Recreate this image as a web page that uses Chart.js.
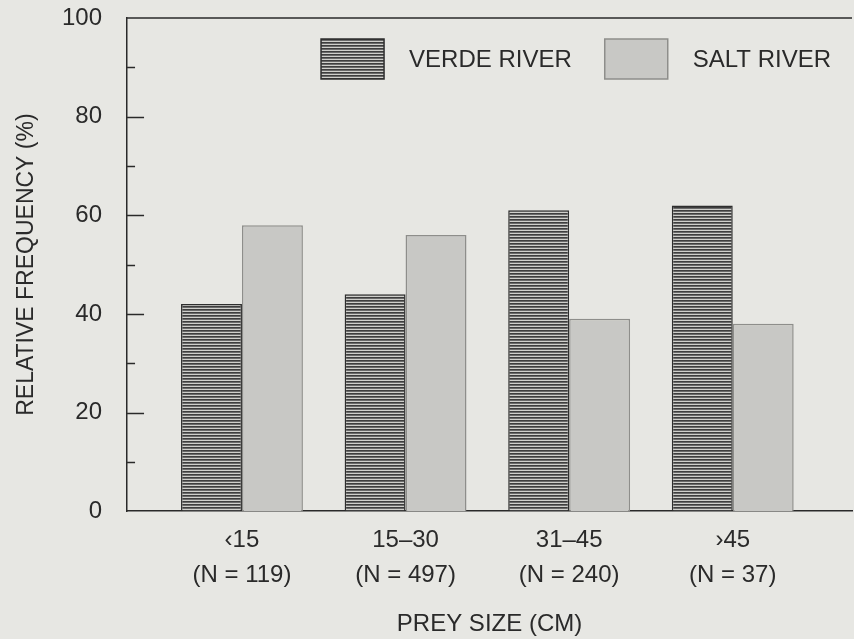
<!DOCTYPE html>
<html>
<head>
<meta charset="utf-8">
<script src="https://cdn.jsdelivr.net/npm/chart.js@4.4.1/dist/chart.umd.min.js"></script>
<style>
  html, body { margin: 0; padding: 0; background: #e7e7e3; }
  #wrap { width: 854px; height: 639px; position: relative; }
</style>
</head>
<body>
<div id="wrap"><canvas id="c" width="854" height="639"></canvas></div>
<script>
// ---- data ----
const sizeClasses = ['\u203915', '15\u201330', '31\u201345', '\u203A45'];
const sampleSizes = ['(N = 119)', '(N = 497)', '(N = 240)', '(N = 37)'];
const verdeRiver = [42, 44, 61, 62];
const saltRiver = [58, 56, 39, 38];
const seriesNames = ['VERDE RIVER', 'SALT RIVER'];
const yTickValues = [0, 10, 20, 30, 40, 50, 60, 70, 80, 90, 100];

// ---- styles ----
const FONT = "'Liberation Sans', Arial, sans-serif";
const INK = '#2a2a2a';

function stripePattern() {
  const c = document.createElement('canvas');
  c.width = 8; c.height = 3;
  const g = c.getContext('2d');
  g.fillStyle = '#cfcfcb'; g.fillRect(0, 0, 8, 3);
  g.fillStyle = '#3e3e3e'; g.fillRect(0, 0, 8, 1);
  g.fillStyle = '#6a6a6a'; g.fillRect(0, 1, 8, 1);
  return g.createPattern(c, 'repeat');
}

const framePlugin = {
  id: 'frame',
  afterDraw(chart) {
    const { ctx, chartArea } = chart;
    const y = chart.scales.y;
    ctx.save();
    ctx.strokeStyle = INK;
    ctx.lineWidth = 1.5;
    ctx.beginPath();
    ctx.moveTo(chartArea.left, chartArea.top);
    ctx.lineTo(chartArea.right, chartArea.top);
    ctx.stroke();
    y.ticks.forEach(t => {
      if (t.value <= 0 || t.value >= 100) return;
      const py = Math.round(y.getPixelForValue(t.value)) + 0.5;
      const len = t.value % 20 === 0 ? 17 : 8;
      ctx.beginPath();
      ctx.moveTo(chartArea.left, py);
      ctx.lineTo(chartArea.left + len, py);
      ctx.stroke();
    });
    ctx.restore();
  }
};

// legend drawn inside the plot area, right-aligned
const insideLegend = {
  id: 'insideLegend',
  afterDatasetsDraw(chart, args, opts) {
    const { ctx, chartArea } = chart;
    ctx.save();
    ctx.font = opts.size + 'px ' + FONT;
    ctx.textBaseline = 'middle';
    ctx.textAlign = 'left';
    const sets = chart.data.datasets;
    const widths = sets.map(d => ctx.measureText(d.label).width);
    let x = chartArea.right - opts.rightGap;
    const pos = [];
    for (let i = sets.length - 1; i >= 0; i--) {
      const tx = x - widths[i];
      const bx = tx - opts.textGap - opts.boxW;
      pos[i] = { tx, bx };
      x = bx - opts.itemGap;
    }
    const top = chartArea.top + opts.topGap;
    sets.forEach((d, i) => {
      ctx.fillStyle = d.backgroundColor;
      ctx.fillRect(pos[i].bx, top, opts.boxW, opts.boxH);
      ctx.strokeStyle = d.borderColor;
      ctx.lineWidth = d.borderWidth;
      ctx.strokeRect(pos[i].bx, top, opts.boxW, opts.boxH);
      ctx.fillStyle = INK;
      ctx.fillText(d.label, pos[i].tx, top + opts.boxH / 2 + 1);
    });
    ctx.restore();
  }
};

const idx = sizeClasses.map((_, i) => i);

new Chart(document.getElementById('c'), {
  type: 'bar',
  data: {
    datasets: [
      {
        label: seriesNames[0],
        data: idx.map(i => ({ x: i, y: verdeRiver[i] })),
        backgroundColor: stripePattern(),
        borderColor: '#2e2e2e',
        borderWidth: 1.5,
        categoryPercentage: 0.745,
        barPercentage: 1.0
      },
      {
        label: seriesNames[1],
        data: idx.map(i => ({ x: i, y: saltRiver[i] })),
        backgroundColor: '#c8c8c5',
        borderColor: '#8e8e8b',
        borderWidth: 1.5,
        categoryPercentage: 0.745,
        barPercentage: 1.0
      }
    ]
  },
  options: {
    responsive: false,
    animation: false,
    layout: { padding: { top: 18, right: 2, bottom: 0, left: 15 } },
    plugins: {
      tooltip: { enabled: false },
      legend: { display: false },
      insideLegend: { size: 24, boxW: 63, boxH: 40, textGap: 25, itemGap: 33, rightGap: 21, topGap: 21 }
    },
    scales: {
      x: {
        type: 'linear',
        offset: false,
        min: -0.7025,
        max: 3.729,
        afterBuildTicks(s) { s.ticks = idx.map(v => ({ value: v })); },
        grid: { display: false, drawTicks: true, tickLength: 12, offset: false },
        border: { display: true, color: INK, width: 1.5 },
        ticks: {
          autoSkip: false,
          maxRotation: 0,
          padding: 0,
          color: INK,
          font: { family: FONT, size: 24, lineHeight: 35 / 24 },
          callback(v) { return [sizeClasses[v], sampleSizes[v]]; }
        },
        title: {
          display: true,
          text: 'PREY SIZE (CM)',
          color: INK,
          font: { family: FONT, size: 24, lineHeight: 1.2 },
          padding: { top: 17, bottom: 0 }
        }
      },
      y: {
        min: 0,
        max: 100,
        afterBuildTicks(s) { s.ticks = yTickValues.map(v => ({ value: v })); },
        grid: { display: false, drawTicks: true, tickLength: 25 },
        border: { display: true, color: INK, width: 1.5 },
        ticks: {
          padding: 0,
          color: INK,
          font: { family: FONT, size: 24 },
          callback(v) { return v % 20 === 0 ? String(v) : ''; }
        },
        title: {
          display: true,
          text: 'RELATIVE FREQUENCY (%)',
          color: INK,
          font: { family: FONT, size: 23, lineHeight: 1.0 },
          padding: { top: 0, bottom: 24 }
        }
      }
    }
  },
  plugins: [framePlugin, insideLegend]
});
</script>
</body>
</html>
